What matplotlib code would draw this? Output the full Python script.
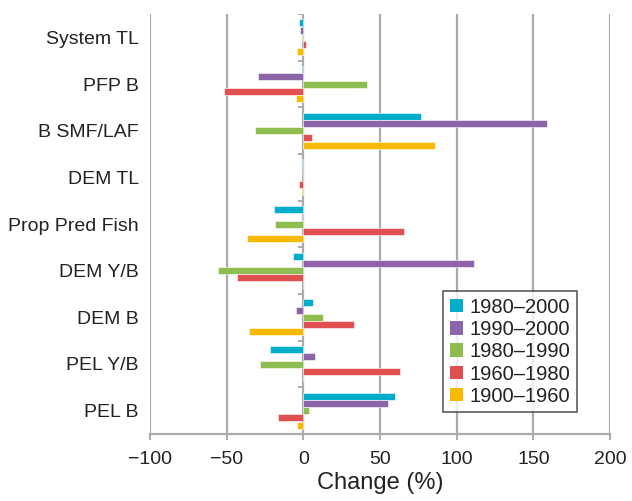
import matplotlib
matplotlib.use("Agg")
import matplotlib.pyplot as plt
import numpy as np

plt.rcParams['font.family'] = ['Liberation Sans', 'DejaVu Sans']

categories = ["PEL B", "PEL Y/B", "DEM B", "DEM Y/B", "Prop Pred Fish",
              "DEM TL", "B SMF/LAF", "PFP B", "System TL"]
series_names = ["1980\u20132000", "1990\u20132000", "1980\u20131990",
                "1960\u20131980", "1900\u20131960"]
s_1980_2000 = [60, -22, 6.5, -6.7, -19.3, -1, 77, -1, -2.6]
s_1990_2000 = [55, 7.6, -4.8, 111.4, -1, -1, 159, -29.8, -2]
s_1980_1990 = [3.7, -28, 12.6, -55.8, -18.2, 0, -31.7, 41.5, -1]
s_1960_1980 = [-16.5, 62.8, 32.8, -43.4, 65.4, -2.6, 5.9, -52, 1.5]
s_1900_1960 = [-4, 0, -35.6, 0, -36.7, -1, 86, -4.8, -4]
series = [s_1980_2000, s_1990_2000, s_1980_1990, s_1960_1980, s_1900_1960]
colors = ["#00AECB", "#8B65A8", "#8FBC4F", "#E05050", "#F8BA00"]
xticks = [-100, -50, 0, 50, 100, 150, 200]

fig = plt.figure(figsize=(6.32, 5.01), dpi=100)
ax = fig.add_axes([150/632, 1-434/501, 460/632, 420/501])

n = len(categories)
y = np.arange(n)
pitch = 0.156
h = 0.15
for i, (vals, c, name) in enumerate(zip(series, colors, series_names)):
    offs = (2 - i) * pitch
    ax.barh(y + offs, vals, height=h, color=c, edgecolor='white',
            linewidth=0.4, label=name, zorder=3)

grid_c = "#ababab"
for xv in xticks:
    ax.axvline(xv, color=grid_c, lw=1.6, zorder=1)
# category separators at zero line
ax.hlines(np.arange(n) + 0.5, -3.2, 0, color=grid_c, lw=1.4, zorder=2)

ax.set_xlim(-100, 200)
ax.set_ylim(-0.5, n - 0.5)
ax.set_xticks(xticks)
ax.set_xticklabels(["\u2212100", "\u221250", "0", "50", "100", "150", "200"])
ax.set_yticks(y)
ax.set_yticklabels(categories)
for s in ['top', 'right', 'left']:
    ax.spines[s].set_visible(False)
ax.spines['bottom'].set_color(grid_c)
ax.spines['bottom'].set_linewidth(1.6)
ax.tick_params(axis='x', colors=grid_c, length=4, width=1.4, labelsize=14,
               labelcolor='#222222', pad=8)
ax.tick_params(axis='y', length=0, labelsize=14, labelcolor='#222222', pad=8)
ax.set_xlabel("Change (%)", fontsize=17, color='#222222', labelpad=3)

leg = ax.legend(loc='upper left', bbox_to_anchor=(0.637, 0.340),
                borderaxespad=0, fontsize=14.5, frameon=True, fancybox=False,
                handlelength=0.65, handleheight=0.65, handletextpad=0.35,
                labelspacing=0.16, borderpad=0.33)
leg.get_frame().set_edgecolor('#333333')
leg.get_frame().set_linewidth(1.2)
for t in leg.get_texts():
    t.set_color('#222222')
for p in leg.get_patches():
    p.set_edgecolor('none')

fig.savefig("out.png", dpi=100)
